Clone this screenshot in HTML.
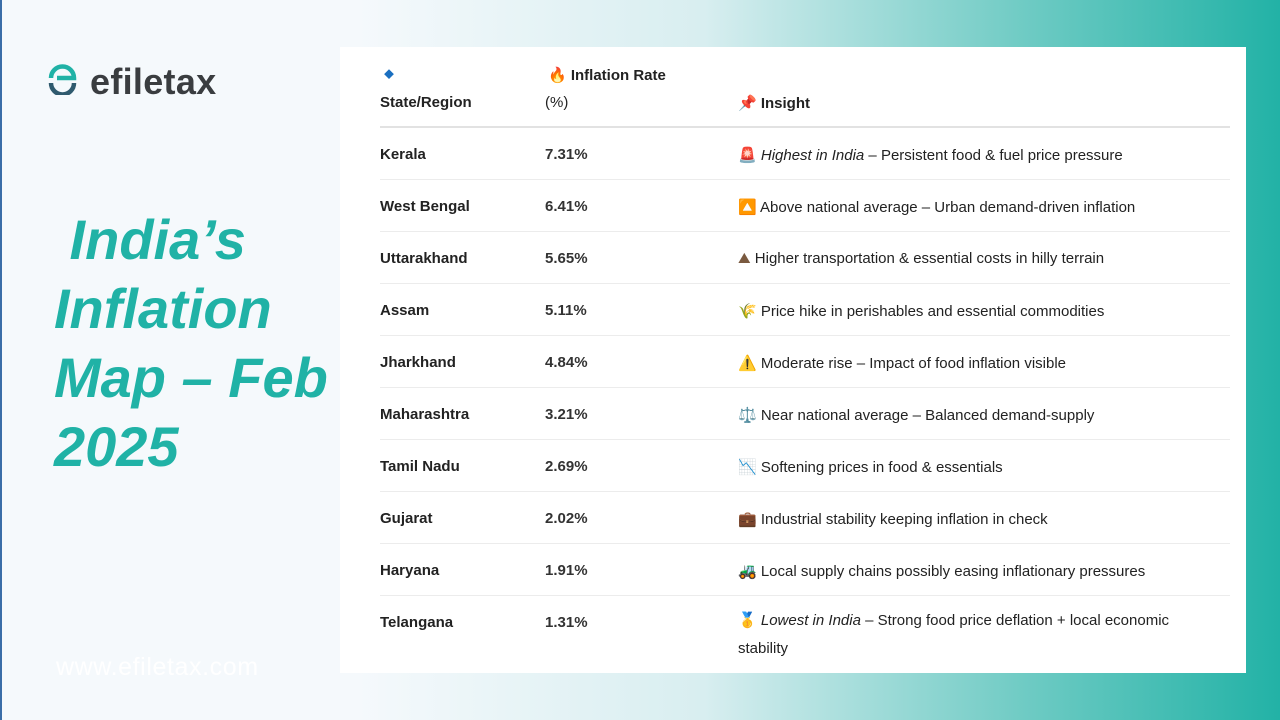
<!DOCTYPE html>
<html><head><meta charset="utf-8"><style>
*{margin:0;padding:0;box-sizing:border-box}
body{width:1280px;height:720px;overflow:hidden;position:relative;font-family:"Liberation Sans","Noto Sans CJK SC",sans-serif;
background:linear-gradient(90deg,#f5f9fc 0%,#f5f9fc 28%,#d8eef0 55%,#6fcbc4 80%,#22b2a6 100%);}
.lb{position:absolute;left:0;top:0;width:2px;height:720px;background:#3a6ea8}
.logo{position:absolute;left:90px;top:61px;font-size:36px;font-weight:bold;color:#3a3d40;letter-spacing:0.3px}
.ic{position:absolute;left:47px;top:64px;width:31px;height:31px}
.title{position:absolute;left:54px;top:205px;font-size:56px;line-height:69px;font-weight:900;font-style:italic;color:#20b2a6;letter-spacing:0px}
.www{position:absolute;left:56px;top:653px;font-size:25px;color:#fff;letter-spacing:0.6px}
.panel{position:absolute;left:340px;top:47px;width:906px;height:626px;background:#fff}
.r{position:absolute;left:40px;width:850px;height:52px;border-bottom:1px solid #ececec;font-size:15px;color:#222}
.r span{position:absolute;top:18px}
.c1{left:0;font-weight:bold}.c2{left:165px;font-weight:bold;color:#333}.c3{left:358px}
.h{font-weight:bold;font-size:15px;position:absolute;color:#222}
</style></head><body>
<div class="lb"></div>
<svg class="ic" viewBox="0 0 31 31"><path d="M4 14 A11.5 11.5 0 0 1 27 14 L10 14" fill="none" stroke="#20b2a6" stroke-width="4.5"/><path d="M4 19 A11.5 11.5 0 0 0 27 19" fill="none" stroke="#2f5a6e" stroke-width="4.5"/></svg>
<div class="logo">efiletax</div>
<div class="title">&nbsp;India’s<br>Inflation<br>Map – Feb<br>2025</div>
<div class="www">www.efiletax.com</div>
<div class="panel">
<div class="h" style="left:44px;top:19px;color:#1a6fc0;font-size:10px">◆</div>
<div class="h" style="left:40px;top:47px">State/Region</div>
<div class="h" style="left:208px;top:19px">🔥 Inflation Rate</div>
<div class="h" style="left:205px;top:47px;font-weight:normal">(%)</div>
<div class="h" style="left:398px;top:47px">📌 Insight</div>
<div style="position:absolute;left:40px;top:79px;width:850px;height:2px;background:#e2e2e2"></div>
<div class="r" style="top:81px"><span class="c1">Kerala</span><span class="c2">7.31%</span><span class="c3">🚨 <i>Highest in India</i> – Persistent food &amp; fuel price pressure</span></div>
<div class="r" style="top:133px"><span class="c1">West Bengal</span><span class="c2">6.41%</span><span class="c3">🔼 Above national average – Urban demand-driven inflation</span></div>
<div class="r" style="top:185px"><span class="c1">Uttarakhand</span><span class="c2">5.65%</span><span class="c3"><span style="position:static;color:#7a5a40">⛰</span> Higher transportation &amp; essential costs in hilly terrain</span></div>
<div class="r" style="top:237px"><span class="c1">Assam</span><span class="c2">5.11%</span><span class="c3">🌾 Price hike in perishables and essential commodities</span></div>
<div class="r" style="top:289px"><span class="c1">Jharkhand</span><span class="c2">4.84%</span><span class="c3">⚠️ Moderate rise – Impact of food inflation visible</span></div>
<div class="r" style="top:341px"><span class="c1">Maharashtra</span><span class="c2">3.21%</span><span class="c3">⚖️ Near national average – Balanced demand-supply</span></div>
<div class="r" style="top:393px"><span class="c1">Tamil Nadu</span><span class="c2">2.69%</span><span class="c3">📉 Softening prices in food &amp; essentials</span></div>
<div class="r" style="top:445px"><span class="c1">Gujarat</span><span class="c2">2.02%</span><span class="c3">💼 Industrial stability keeping inflation in check</span></div>
<div class="r" style="top:497px"><span class="c1">Haryana</span><span class="c2">1.91%</span><span class="c3">🚜 Local supply chains possibly easing inflationary pressures</span></div>
<div class="r" style="top:549px;border:none;height:70px"><span class="c1">Telangana</span><span class="c2">1.31%</span><span class="c3" style="width:480px;line-height:28px;top:11px">🥇 <i>Lowest in India</i> – Strong food price deflation + local economic stability</span></div>
</div>
</body></html>
